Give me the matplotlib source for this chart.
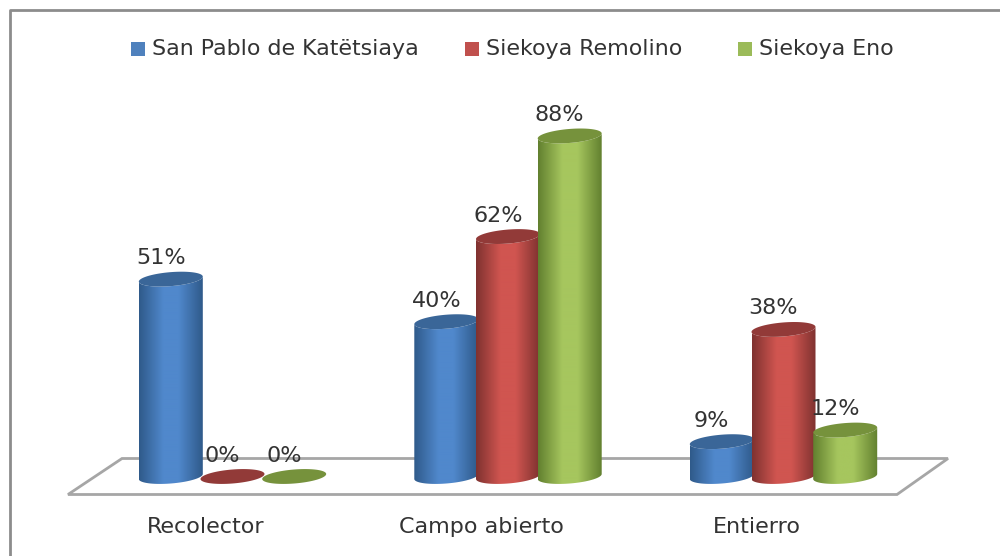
import numpy as np
import matplotlib
matplotlib.use('Agg')
import matplotlib.pyplot as plt
from matplotlib.colors import LinearSegmentedColormap
from matplotlib.patches import Polygon, Rectangle

# data
categories = ['Recolector', 'Campo abierto', 'Entierro']
series_names = ['San Pablo de Katëtsiaya', 'Siekoya Remolino', 'Siekoya Eno']
san_pablo = [51, 40, 9]
remolino = [0, 62, 38]
eno = [0, 88, 12]

# edge, middle, lid, legend colours of each series
colors = [('#2f5a8a', '#5088cc', '#3a6698', '#4f81bd'),
          ('#7f3230', '#d05550', '#923a38', '#c0504d'),
          ('#62802f', '#a6c65e', '#76923c', '#9bbb59')]

# pixel layout of the figure
W, H = 1000, 556
px_per_cat = 275.5
px_per_pct = 3.87
cat0_x = 232.5
base_y = 476.5
bar_off = 61.7 / px_per_cat
half_w = 32 / px_per_cat
lid_h = 7 / px_per_pct
tilt = 2.5 / px_per_pct


# pixel position in the image -> data coordinates
def dx(x):
    return (x - cat0_x) / px_per_cat


def dy(y):
    return (base_y - y) / px_per_pct


plt.rcParams['font.family'] = 'DejaVu Sans'
fig = plt.figure(figsize=(W / 100, H / 100), dpi=100)
ax = fig.add_axes([0, 0, 1, 1])
ax.axis('off')

# outer frame
ax.plot([dx(10), dx(10), dx(W)], [dy(H), dy(10), dy(10)], color='#8c8c8c', lw=2)

# floor of the 3d chart
floor_x = [dx(68), dx(122), dx(948), dx(897)]
floor_y = [dy(494.5), dy(458.5), dy(458.5), dy(494.5)]
ax.add_patch(Polygon(np.column_stack([floor_x, floor_y]), closed=True, fc='white',
                     ec='#a6a6a6', lw=2, zorder=1))


def arc(cx, h, t):
    return cx + half_w * np.cos(t), h + lid_h * np.sin(t) + tilt * np.cos(t)


def cylinder(cx, value, cols, z):
    edge, mid, lid = cols[:3]
    t_low = np.linspace(np.pi, 2 * np.pi, 40)
    t_all = np.linspace(0, 2 * np.pi, 80)
    if value > 0:
        bx, by = arc(cx, 0, t_low)
        tx, ty = arc(cx, value, t_low[::-1])
        path = np.column_stack([np.r_[bx, tx], np.r_[by, ty]])
        body = Polygon(path, closed=True, fc='none', ec='none', zorder=z)
        ax.add_patch(body)
        cmap = LinearSegmentedColormap.from_list('c', [(0, edge), (.38, mid), (.62, mid), (1, edge)])
        grad = np.linspace(0, 1, 128)[None, :]
        im = ax.imshow(grad, cmap=cmap, aspect='auto', zorder=z,
                       extent=[cx - half_w, cx + half_w, -3, value + 3], interpolation='bilinear')
        im.set_clip_path(body)
    lx, ly = arc(cx, value, t_all)
    ax.add_patch(Polygon(np.column_stack([lx, ly]), closed=True, fc=lid, ec='none', zorder=z + 0.1))


all_values = [san_pablo, remolino, eno]
for s, vals in enumerate(all_values):
    for c, v in enumerate(vals):
        cx = c + (s - 1) * bar_off
        cylinder(cx, v, colors[s], 2 + s)
        ax.text(cx - 10 / px_per_cat, v + 21 / px_per_pct, f'{v}%', ha='center', va='center',
                fontsize=16, color='#333333', zorder=10)

# imshow resets the limits, so set them last
ax.set_xlim(dx(0), dx(W))
ax.set_ylim(dy(H), dy(0))

# category labels sit left of the bars because of the floor skew
for c, name in enumerate(categories):
    ax.text(c - 27 / px_per_cat, dy(527), name, ha='center', va='center', fontsize=16, color='#333333')

# legend
legend_sq = [131, 465, 738]
legend_txt = [152, 486, 759]
for s, name in enumerate(series_names):
    ax.add_patch(Rectangle((dx(legend_sq[s]), dy(56)), 14 / px_per_cat, 14 / px_per_pct,
                           fc=colors[s][3], ec='none'))
    ax.text(dx(legend_txt[s]), dy(49.5), name, ha='left', va='center', fontsize=15.9, color='#333333')

fig.savefig('out.png', dpi=100)
